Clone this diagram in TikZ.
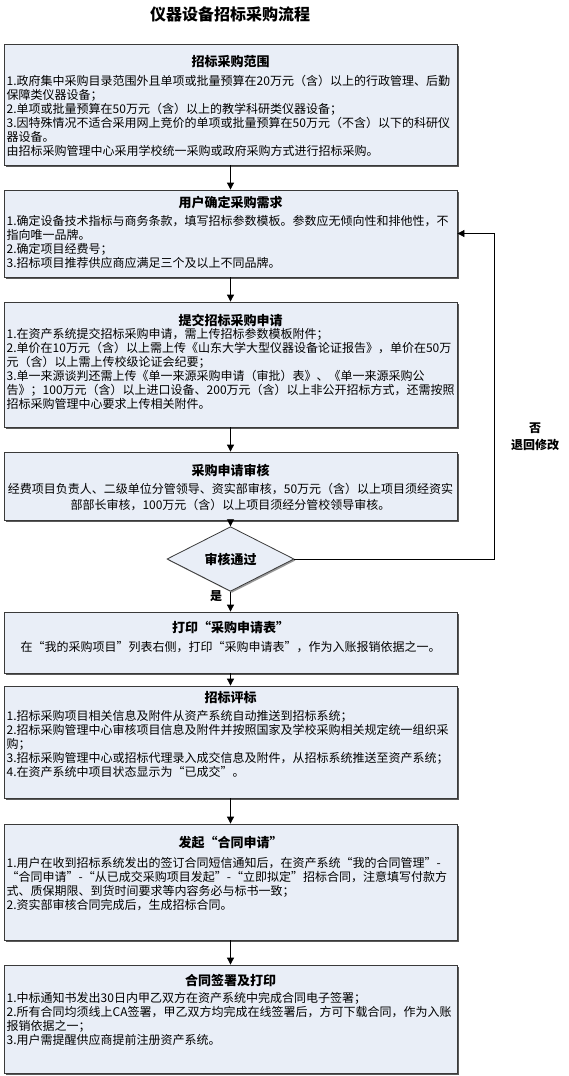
\documentclass[tikz,border=0pt]{standalone}
\usepackage{fontspec}
\setmainfont{Noto Sans CJK SC}
\usetikzlibrary{arrows.meta,shapes.geometric,shadows}
\definecolor{boxfill}{HTML}{E9EEF7}
\definecolor{boxline}{HTML}{3A3A3A}
\begin{document}
\begin{tikzpicture}[x=1pt,y=-1pt,
  box/.style={draw=boxline, line width=0.8pt, fill=boxfill, minimum width=453pt, inner sep=0pt,
    drop shadow={shadow xshift=1.8pt, shadow yshift=-1.8pt, fill=black!65, opacity=1}},
  decision/.style={diamond, draw=boxline, line width=0.8pt, fill=boxfill, minimum width=127pt,
    minimum height=41pt, inner sep=0pt, font=\fontsize{13}{15}\selectfont\bfseries,
    drop shadow={shadow xshift=1.5pt, shadow yshift=-1.5pt, fill=black!40, opacity=1}},
  ttl/.style={font=\fontsize{13}{15}\selectfont\bfseries, inner sep=0pt},
  body/.style={font=\fontsize{12}{14}\selectfont, align=left, anchor=north west, inner sep=0pt},
  cbody/.style={font=\fontsize{12}{16}\selectfont, align=center, anchor=north, inner sep=0pt},
  arr/.style={draw=black, line width=0.8pt, -{Triangle[length=7pt,width=7pt]}},
  lbl/.style={font=\fontsize{12}{17}\selectfont\bfseries, inner sep=0pt, align=center},
  head/.style={font=\fontsize{16}{18}\selectfont\bfseries, inner sep=0pt}]

\path[use as bounding box] (0,0) rectangle (569,1076);

\node[head] (title) at (230,14) {仪器设备招标采购流程};

% boxes
\node[box, minimum height=121pt] (b1) at (230.5,104.5) {};
\node[box, minimum height=87pt]  (b2) at (230.5,233.5) {};
\node[box, minimum height=125pt] (b3) at (230.5,364.5) {};
\node[box, minimum height=68pt]  (b4) at (230.5,486) {};
\node[decision] (dia) at (230.5,559) {审核通过};
\node[box, minimum height=61pt]  (b5) at (230.5,642.5) {};
\node[box, minimum height=112pt] (b6) at (230.5,742) {};
\node[box, minimum height=116pt] (b7) at (230.5,882) {};
\node[box, minimum height=108pt] (b8) at (230.5,1019) {};

% box 1
\node[ttl] (t1) at (230.5,62) {招标采购范围};
\node[body] (x1) at (6.5,75) {\rule{0pt}{10pt}1.政府集中采购目录范围外且单项或批量预算在20万元（含）以上的行政管理、后勤\\
保障类仪器设备；\\
2.单项或批量预算在50万元（含）以上的教学科研类仪器设备；\\
3.因特殊情况不适合采用网上竞价的单项或批量预算在50万元（不含）以下的科研仪\\
器设备。\\
由招标采购管理中心采用学校统一采购或政府采购方式进行招标采购。};

% box 2
\node[ttl] (t2) at (230.5,203) {用户确定采购需求};
\node[body] (x2) at (6.5,215.5) {\rule{0pt}{10pt}1.确定设备技术指标与商务条款，填写招标参数模板。参数应无倾向性和排他性，不\\
指向唯一品牌。\\
2.确定项目经费号；\\
3.招标项目推荐供应商应满足三个及以上不同品牌。};

% box 3
\node[ttl] (t3) at (230.5,320) {提交招标采购申请};
\node[body] (x3) at (6.5,328.5) {\rule{0pt}{10pt}1.在资产系统提交招标采购申请，需上传招标参数模板附件；\\
2.单价在10万元（含）以上需上传《山东大学大型仪器设备论证报告》，单价在50万\\
元（含）以上需上传校级论证会纪要；\\
3.单一来源谈判还需上传《单一来源采购申请（审批）表》、《单一来源采购公\\
告》；100万元（含）以上进口设备、200万元（含）以上非公开招标方式，还需按照\\
招标采购管理中心要求上传相关附件。};

% box 4
\node[ttl] (t4) at (230.5,470) {采购申请审核};
\node[cbody] (x4) at (230.5,483.5) {\rule{0pt}{10pt}经费项目负责人、二级单位分管领导、资实部审核，50万元（含）以上项目须经资实\\
部部长审核，100万元（含）以上项目须经分管校领导审核。};

% box 5
\node[ttl] (t5) at (230.5,627) {打印“采购申请表”};
\node[cbody] (x5) at (230.5,641.5) {\rule{0pt}{10pt}在“我的采购项目”列表右侧，打印“采购申请表”，作为入账报销依据之一。};

% box 6
\node[ttl] (t6) at (230.5,698) {招标评标};
\node[body] (x6) at (6.5,710.5) {\rule{0pt}{10pt}1.招标采购项目相关信息及附件从资产系统自动推送到招标系统；\\
2.招标采购管理中心审核项目信息及附件并按照国家及学校采购相关规定统一组织采\\
购；\\
3.招标采购管理中心或招标代理录入成交信息及附件，从招标系统推送至资产系统；\\
4.在资产系统中项目状态显示为“已成交”。};

% box 7
\node[ttl] (t7) at (230.5,843) {发起“合同申请”};
\node[body] (x7) at (6.5,857.5) {\rule{0pt}{10pt}1.用户在收到招标系统发出的签订合同短信通知后，在资产系统“我的合同管理”-\\
“合同申请”-“从已成交采购项目发起”-“立即拟定”招标合同，注意填写付款方\\
式、质保期限、到货时间要求等内容务必与标书一致；\\
2.资实部审核合同完成后，生成招标合同。};

% box 8
\node[ttl] (t8) at (230.5,980) {合同签署及打印};
\node[body] (x8) at (6.5,992.5) {\rule{0pt}{10pt}1.中标通知书发出30日内甲乙双方在资产系统中完成合同电子签署；\\
2.所有合同均须线上CA签署，甲乙双方均完成在线签署后，方可下载合同，作为入账\\
报销依据之一；\\
3.用户需提醒供应商提前注册资产系统。};

% connectors
\draw[arr] (b1) -- (b2);
\draw[arr] (b2) -- (b3);
\draw[arr] (b3) -- (b4);
\draw[arr] (b4) -- (dia);
\draw[arr] (dia) -- (b5);
\draw[arr] (b5) -- (b6);
\draw[arr] (b6) -- (b7);
\draw[arr] (b7) -- (b8);
\draw[arr] (dia.east) -| ([xshift=37pt]b2.east) -- (b2.east);

\node[lbl] (yes) at (216,596) {是};
\node[lbl] (no) at (535,437) {否\\退回修改};
\end{tikzpicture}
\end{document}
